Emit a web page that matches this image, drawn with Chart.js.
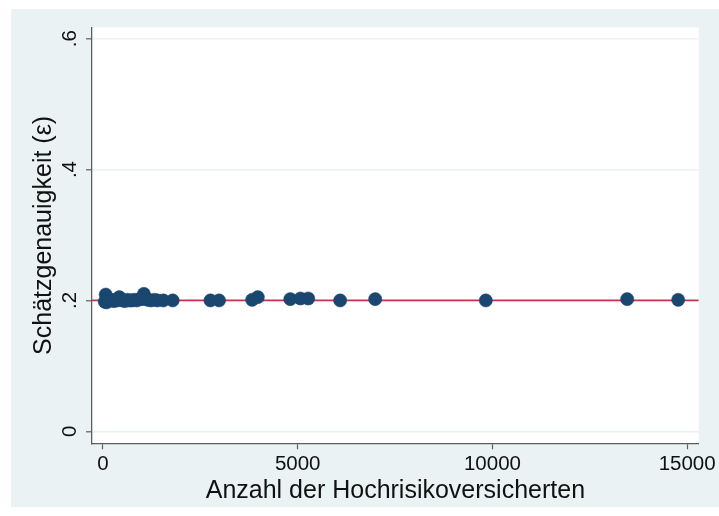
<!DOCTYPE html>
<html>
<head>
<meta charset="utf-8">
<script src="https://cdn.jsdelivr.net/npm/chart.js@4/dist/chart.umd.min.js"></script>
<style>
  html, body { margin: 0; padding: 0; background: #ffffff; }
  #wrap { width: 719px; height: 516px; }
</style>
</head>
<body>
<div id="wrap"><canvas id="c" width="719" height="516"></canvas></div>
<script>
// Number of high-risk insured persons per fund
const anzahl = [45, 70, 90, 120, 160, 200, 240, 280, 320, 370, 420, 450, 500, 560, 620, 680, 740, 800,
  870, 940, 1010, 1050, 1100, 1150, 1230, 1320, 1400, 1550, 1790,
  2760, 2980, 3830, 3975, 4810, 5070, 5270, 6090, 6990, 9830, 13460, 14770];
// Estimation precision (epsilon) per fund
const epsilon = [0.198, 0.209, 0.197, 0.203, 0.200, 0.201, 0.200, 0.199, 0.201, 0.200, 0.205, 0.202, 0.200, 0.199, 0.201, 0.200, 0.200, 0.201,
  0.200, 0.202, 0.202, 0.210, 0.203, 0.201, 0.200, 0.201, 0.200, 0.200, 0.200,
  0.200, 0.200, 0.201, 0.205, 0.202, 0.203, 0.203, 0.200, 0.202, 0.200, 0.202, 0.201];
// Target precision level
const zielwert = 0.2;

const xTicks = [0, 5000, 10000, 15000];
const xTickLabels = ['0', '5000', '10000', '15000'];
const yTicks = [0, 0.2, 0.4, 0.6];
const yTickLabels = ['0', '.2', '.4', '.6'];
const xRange = [-282, 15298];
const yRange = [-0.0183, 0.6171];

const FONT = '"Liberation Sans", Arial, Helvetica, sans-serif';
const BG = '#eaf2f3';
const AXIS = '#5e5e5e';
const TXT = '#111111';

const points = anzahl.map((x, i) => ({ x: x, y: epsilon[i] }));

// Backgrounds: outer graph region and white plot region
const panelPlugin = {
  id: 'panels',
  beforeDraw(chart) {
    const { ctx, chartArea: a } = chart;
    ctx.save();
    ctx.fillStyle = '#ffffff';
    ctx.fillRect(0, 0, chart.width, chart.height);
    ctx.fillStyle = BG;
    ctx.fillRect(11, 9, chart.width - 11, 498);
    ctx.fillStyle = '#ffffff';
    ctx.fillRect(a.left, a.top, a.right - a.left, a.bottom - a.top);
    ctx.restore();
  }
};

// Vertical-axis tick labels, rotated like the axis title
const yLabelPlugin = {
  id: 'yLabels',
  afterDraw(chart) {
    const { ctx } = chart;
    const ys = chart.scales.y;
    ctx.save();
    ctx.fillStyle = TXT;
    ctx.font = '20.5px ' + FONT;
    ctx.textAlign = 'center';
    ctx.textBaseline = 'middle';
    yTicks.forEach((v, i) => {
      const py = ys.getPixelForValue(v);
      ctx.save();
      ctx.translate(70, py);
      ctx.rotate(-Math.PI / 2);
      ctx.fillText(yTickLabels[i], 0, 0);
      ctx.restore();
    });
    ctx.restore();
  }
};

new Chart(document.getElementById('c'), {
  data: {
    datasets: [
      {
        type: 'scatter',
        data: points,
        backgroundColor: '#1a476f',
        borderColor: '#1a476f',
        borderWidth: 0.5,
        pointRadius: 6.6,
        pointHoverRadius: 6.6,
        order: 1
      },
      {
        type: 'line',
        data: [{ x: xRange[0], y: zielwert }, { x: xRange[1], y: zielwert }],
        borderColor: '#c8334f',
        borderWidth: 1.8,
        pointRadius: 0,
        fill: false,
        order: 2
      }
    ]
  },
  options: {
    responsive: false,
    animation: false,
    devicePixelRatio: 1,
    layout: { padding: { left: 0, top: 27.5, right: 18.3, bottom: 0 } },
    plugins: { legend: { display: false }, tooltip: { enabled: false } },
    scales: {
      x: {
        type: 'linear',
        min: xRange[0],
        max: xRange[1],
        afterBuildTicks(scale) { scale.ticks = xTicks.map(v => ({ value: v })); },
        afterFit(scale) { scale.height = 72.7; },
        ticks: {
          callback: (v) => xTickLabels[xTicks.indexOf(v)],
          color: TXT,
          font: { family: FONT, size: 20.5 },
          padding: 3,
          maxRotation: 0,
          minRotation: 0
        },
        grid: { drawOnChartArea: false, tickLength: 6, tickColor: AXIS, tickWidth: 1.2 },
        border: { color: AXIS, width: 1.3 },
        title: {
          display: true,
          text: 'Anzahl der Hochrisikoversicherten',
          color: TXT,
          font: { family: FONT, size: 25 },
          padding: { top: 0, bottom: 10 }
        }
      },
      y: {
        type: 'linear',
        min: yRange[0],
        max: yRange[1],
        afterBuildTicks(scale) { scale.ticks = yTicks.map(v => ({ value: v })); },
        afterFit(scale) { scale.width = 92; },
        ticks: { display: false },
        grid: { color: BG, lineWidth: 1.6, tickLength: 6, tickColor: AXIS, tickWidth: 1.2 },
        border: { color: AXIS, width: 1.3 },
        title: {
          display: true,
          text: 'Schätzgenauigkeit (ε)',
          color: TXT,
          font: { family: FONT, size: 25 },
          padding: { top: 29, bottom: 0 }
        }
      }
    }
  },
  plugins: [panelPlugin, yLabelPlugin]
});
</script>
</body>
</html>
